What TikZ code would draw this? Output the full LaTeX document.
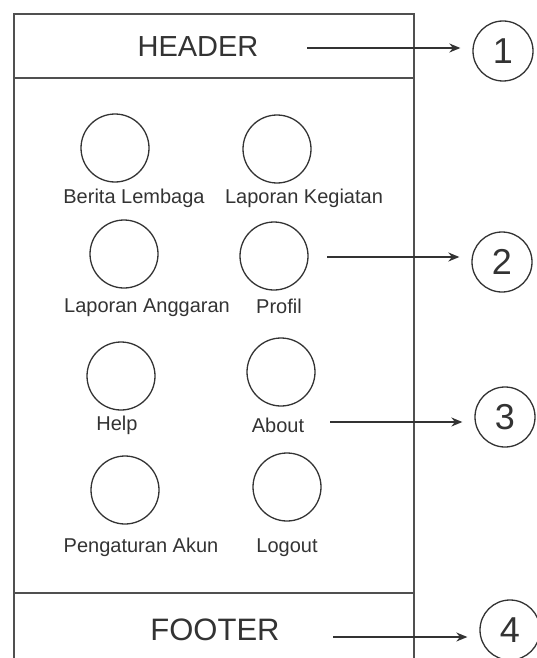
\documentclass[tikz,border=0pt]{standalone}
\usepackage{fontspec}
\setmainfont{Liberation Sans}
\usetikzlibrary{positioning,arrows.meta}
\definecolor{garis}{HTML}{333333}
\definecolor{bingkai}{HTML}{505050}

\begin{document}
\begin{tikzpicture}[x=1pt,y=-1pt,
    ikon/.style={draw=garis,circle,line width=1.3pt,minimum size=68pt,inner sep=0pt},
    ket/.style={font=\fontsize{20}{24}\selectfont,text=garis,inner sep=0pt,anchor=base},
    judul/.style={font=\fontsize{29}{34}\selectfont,text=garis,inner sep=0pt,anchor=base},
    nomor/.style={draw=garis,circle,line width=1.3pt,minimum size=60pt,inner sep=0pt,
      font=\fontsize{36}{40}\selectfont,text=garis},
    panah/.style={draw=garis,line width=1.6pt,-{Stealth[length=11pt,width=9pt]},shorten >=12pt}]
  \useasboundingbox (0,0) rectangle (537,658);

  % Bingkai layar
  \draw[bingkai,line width=2pt] (14,658) |- (414,14) -- (414,658);
  \draw[bingkai,line width=1.8pt] (14,78) -- (414,78);
  \draw[bingkai,line width=1.8pt] (14,593) -- (414,593);

  % Header dan footer
  \node[judul] (header) at (198,57) {HEADER};
  \node[judul,font=\fontsize{31}{36}\selectfont] (footer) at (215,640) {FOOTER};

  % Menu
  \node[ikon] (berita) at (115,148) {};
  \node[ikon] (kegiatan) at (277,149) {};
  \node[ikon] (anggaran) at (124,254) {};
  \node[ikon] (profil) at (274,256) {};
  \node[ikon] (help) at (121,376) {};
  \node[ikon] (about) at (281,372) {};
  \node[ikon] (akun) at (125,490) {};
  \node[ikon] (logout) at (287,487) {};

  \node[ket] (tBerita) at (134,203) {Berita Lembaga};
  \node[ket] (tKegiatan) at (304,203) {Laporan Kegiatan};
  \node[ket] (tAnggaran) at (147,312) {Laporan Anggaran};
  \node[ket] (tProfil) at (279,313) {Profil};
  \node[ket] (tHelp) at (117,430) {Help};
  \node[ket] (tAbout) at (278,432) {About};
  \node[ket] (tAkun) at (141,552) {Pengaturan Akun};
  \node[ket] (tLogout) at (287,552) {Logout};

  % Nomor keterangan
  \node[nomor] (n1) at (503,51) {1};
  \node[nomor] (n2) at (502,262) {2};
  \node[nomor] (n3) at (505,417) {3};
  \node[nomor] (n4) at (510,630) {4};

  % Panah
  \coordinate (a1) at (307,48);
  \coordinate (a2) at (327,257);
  \coordinate (a3) at (330,422);
  \coordinate (a4) at (333,637);
  \draw[panah] (a1) -- (a1 -| n1.west);
  \draw[panah] (a2) -- (a2 -| n2.west);
  \draw[panah] (a3) -- (a3 -| n3.west);
  \draw[panah] (a4) -- (a4 -| n4.west);
\end{tikzpicture}
\end{document}
